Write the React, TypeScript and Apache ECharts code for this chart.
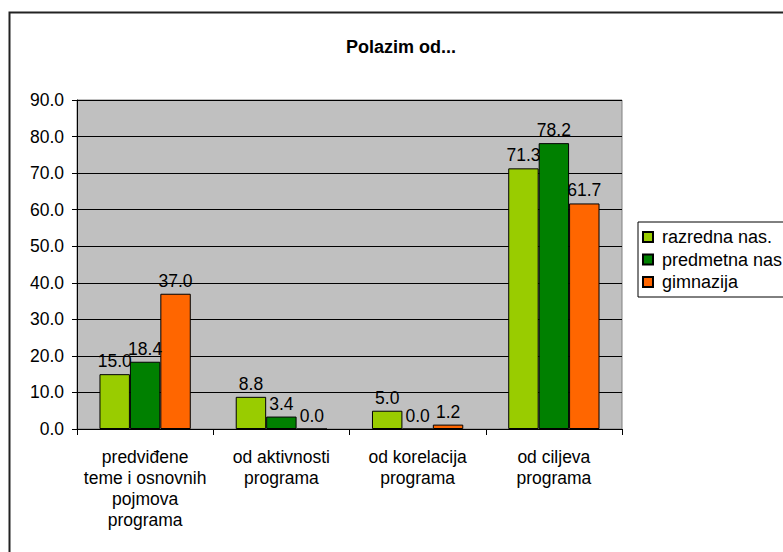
import React, { useEffect, useRef } from "react";
import * as echarts from "echarts";

const categories = [
  "predviđene\nteme i osnovnih\npojmova\nprograma",
  "od aktivnosti\nprograma",
  "od korelacija\nprograma",
  "od ciljeva\nprograma",
];
const seriesNames = ["razredna nas.", "predmetna nas.", "gimnazija"];
const razredna = [15.0, 8.8, 5.0, 71.3];
const predmetna = [18.4, 3.4, 0.0, 78.2];
const gimnazija = [37.0, 0.0, 1.2, 61.7];
const colors = ["#99CC00", "#008000", "#FF6600"];
const titleText = "Polazim od...";

const FONT = "Liberation Sans, Arial, sans-serif";
const FS = 17.5;

export default function App() {
  const ref = useRef<HTMLDivElement>(null);
  useEffect(() => {
    if (!ref.current) return;
    const chart = echarts.init(ref.current, null, { renderer: "svg" });
    const data = [razredna, predmetna, gimnazija];
    chart.setOption({
      animation: false,
      backgroundColor: "#ffffff",
      textStyle: { fontFamily: FONT },
      graphic: [
        {
          type: "rect",
          shape: { x: 9.5, y: 12.5, width: 800, height: 600 },
          style: { fill: "none", stroke: "#222", lineWidth: 2 },
          z: 0,
        },
        {
          type: "text",
          x: 401,
          y: 47,
          style: {
            text: titleText,
            fontFamily: FONT,
            fontWeight: "bold",
            fontSize: 18,
            fill: "#000",
            align: "center",
            verticalAlign: "middle",
          },
        },
      ],
      grid: {
        left: 77,
        right: 783 - 622,
        top: 100,
        bottom: 552 - 429,
        show: true,
        backgroundColor: "#C0C0C0",
        borderColor: "#808080",
        borderWidth: 1,
      },
      legend: {
        orient: "vertical",
        left: 638,
        top: 222,
        padding: [6, 8, 6, 4],
        itemWidth: 10,
        itemHeight: 10,
        itemGap: 4.5,
        icon: "rect",
        borderColor: "#000",
        borderWidth: 1,
        backgroundColor: "#fff",
        textStyle: { fontFamily: FONT, fontSize: 18, color: "#000", lineHeight: 18, padding: [0, 0, 0, 4] },
        data: seriesNames,
      },
      xAxis: {
        type: "category",
        data: categories,
        axisLine: { show: true, lineStyle: { color: "#000", width: 1 } },
        axisTick: { show: true, length: 6, lineStyle: { color: "#000" } },
        axisLabel: {
          interval: 0,
          margin: 17,
          fontFamily: FONT,
          fontSize: FS,
          color: "#000",
          lineHeight: 21,
          align: "center",
        },
      },
      yAxis: {
        type: "value",
        min: 0,
        max: 90,
        interval: 10,
        axisLine: { show: true, lineStyle: { color: "#000", width: 1 } },
        axisTick: { show: true, length: 5, lineStyle: { color: "#000" } },
        axisLabel: {
          margin: 13,
          fontFamily: FONT,
          fontSize: FS,
          color: "#000",
          formatter: (v: number) => v.toFixed(1),
        },
        splitLine: { show: true, lineStyle: { color: "#000", width: 1 } },
      },
      series: seriesNames.map((name, i) => ({
        name,
        type: "bar",
        data: data[i],
        barGap: "0%",
        barCategoryGap: "33%",
        itemStyle: { color: colors[i], borderColor: "#000", borderWidth: 1 },
        label: {
          show: true,
          position: "top",
          distance: 4,
          fontFamily: FONT,
          fontSize: FS,
          color: "#000",
          formatter: (p: any) => Number(p.value).toFixed(1),
        },
      })),
    });
    return () => chart.dispose();
  }, []);
  return (
    <div
      ref={ref}
      style={{ position: "fixed", left: 0, top: 0, width: 783, height: 552 }}
    />
  );
}
